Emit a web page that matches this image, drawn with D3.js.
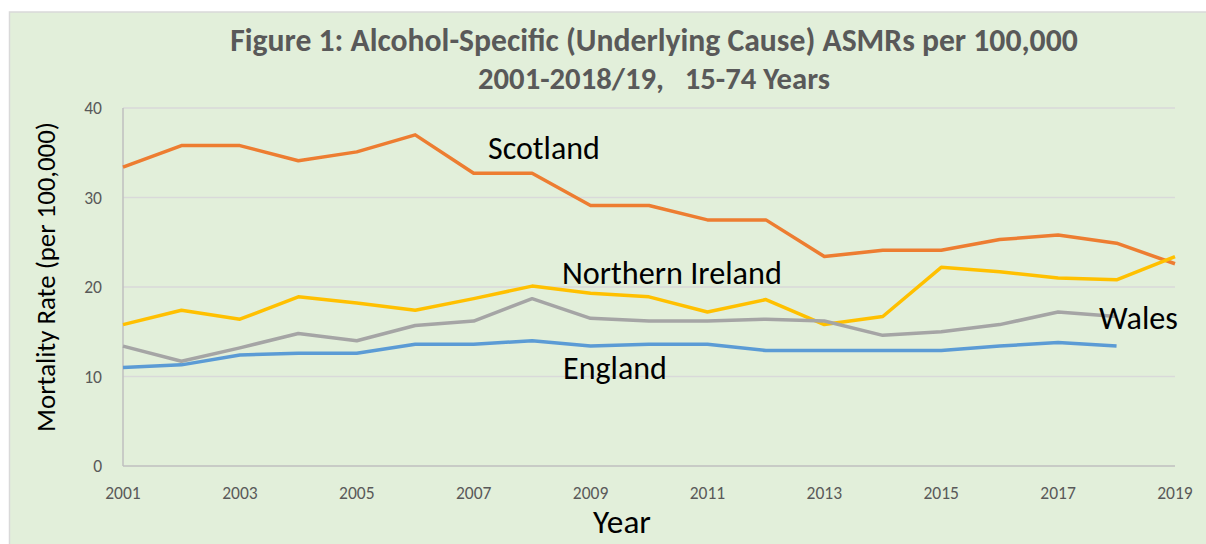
<!DOCTYPE html>
<html><head><meta charset="utf-8">
<script src="https://cdn.jsdelivr.net/npm/d3@7"></script>
<style>
html,body{margin:0;padding:0;background:#fff;}
svg{display:block;}
text{font-family:Carlito, Calibri, Lato, "Open Sans", sans-serif;}
</style></head>
<body>
<svg id="c" width="1206" height="544"></svg>
<script>
const years = [2001,2002,2003,2004,2005,2006,2007,2008,2009,2010,2011,2012,2013,2014,2015,2016,2017,2018,2019];
const scotland = [33.4,35.8,35.8,34.1,35.1,37.0,32.7,32.7,29.1,29.1,27.5,27.5,23.4,24.1,24.1,25.3,25.8,24.9,22.6];
const northernIreland = [15.8,17.4,16.4,18.9,18.2,17.4,18.7,20.1,19.3,18.9,17.2,18.6,15.8,16.7,22.2,21.7,21.0,20.8,23.4];
const wales = [13.4,11.7,13.2,14.8,14.0,15.7,16.2,18.7,16.5,16.2,16.2,16.4,16.2,14.6,15.0,15.8,17.2,16.7];
const england = [11.0,11.3,12.4,12.6,12.6,13.6,13.6,14.0,13.4,13.6,13.6,12.9,12.9,12.9,12.9,13.4,13.8,13.4];
const xTicks = [2001,2003,2005,2007,2009,2011,2013,2015,2017,2019];
const yTicks = [0,10,20,30,40];
const seriesNames = ["Scotland","Northern Ireland","Wales","England"];
const seriesValues = [scotland, northernIreland, wales, england];
const seriesColors = ["#ED7D31","#FFC000","#A5A5A5","#5B9BD5"];
const titleLines = ["Figure 1: Alcohol-Specific (Underlying Cause) ASMRs per 100,000", "2001-2018/19,   15-74 Years"];

const svg = d3.select("#c");
const W = 1206, H = 544;
const L = 123, R = 1175, T = 108, B = 466;

svg.append("rect").attr("x",9.5).attr("y",12).attr("width",W+20).attr("height",H)
  .attr("fill","#E2EFDA").attr("stroke","#D9D9D9").attr("stroke-width",1.5);

const x = d3.scaleLinear().domain([2001,2019]).range([L,R]);
const y = d3.scaleLinear().domain([0,40]).range([B,T]);

function fit(sel, target){
  const n = sel.node();
  const fs = parseFloat(sel.attr("font-size"));
  const w = n.getComputedTextLength();
  if (w>0) sel.attr("font-size", fs*target/w);
  return sel;
}

const tickFs = 17.5;

svg.append("g").selectAll("line").data(yTicks.filter(d=>d>0)).join("line")
  .attr("x1",L).attr("x2",R).attr("y1",d=>y(d)).attr("y2",d=>y(d))
  .attr("stroke","#D9D9D9").attr("stroke-width",1.5);

svg.append("line").attr("x1",L).attr("x2",R).attr("y1",B).attr("y2",B).attr("stroke","#BFBFBF").attr("stroke-width",1.5);
svg.append("line").attr("x1",L).attr("x2",L).attr("y1",T).attr("y2",B).attr("stroke","#BFBFBF").attr("stroke-width",1.5);

svg.append("g").selectAll("text").data(yTicks).join("text")
  .attr("x",102).attr("y",d=>y(d)+6).attr("text-anchor","end")
  .attr("font-size",tickFs).attr("fill","#595959").text(d=>d);

svg.append("g").selectAll("text").data(xTicks).join("text")
  .attr("x",d=>x(d)).attr("y",499).attr("text-anchor","middle")
  .attr("font-size",tickFs).attr("fill","#595959").text(d=>d);

const line = d3.line().x((d,i)=>x(years[i])).y(d=>y(d));
seriesValues.forEach((vals,k)=>{
  svg.append("path").datum(vals).attr("d",line).attr("fill","none")
    .attr("stroke",seriesColors[k]).attr("stroke-width",3.5).attr("stroke-linejoin","round");
});

const labelPos = [[488,159,112],[562,284,220],[1099,329,79],[563,379,104]];
seriesNames.forEach((nm,k)=>{
  const t = svg.append("text").attr("x",labelPos[k][0]).attr("y",labelPos[k][1])
    .attr("font-size",26).attr("fill","#000").text(nm);
  fit(t, labelPos[k][2]);
});

const t1 = svg.append("text").attr("x",654).attr("y",51).attr("text-anchor","middle")
  .attr("font-size",24).attr("font-weight","bold").attr("fill","#595959").text(titleLines[0]);
fit(t1, 848);
const t2 = svg.append("text").attr("x",654).attr("y",89).attr("text-anchor","middle")
  .attr("font-size",24).attr("font-weight","bold").attr("fill","#595959")
  .style("white-space","pre").text(titleLines[1]);
fit(t2, 352);

const yt = svg.append("text").attr("transform","translate(55,277) rotate(-90)").attr("text-anchor","middle")
  .attr("font-size",23).attr("fill","#000").text("Mortality Rate (per 100,000)");
fit(yt, 310);
const xt = svg.append("text").attr("x",622).attr("y",533).attr("text-anchor","middle")
  .attr("font-size",25).attr("fill","#000").text("Year");
fit(xt, 58);
</script>
</body></html>
